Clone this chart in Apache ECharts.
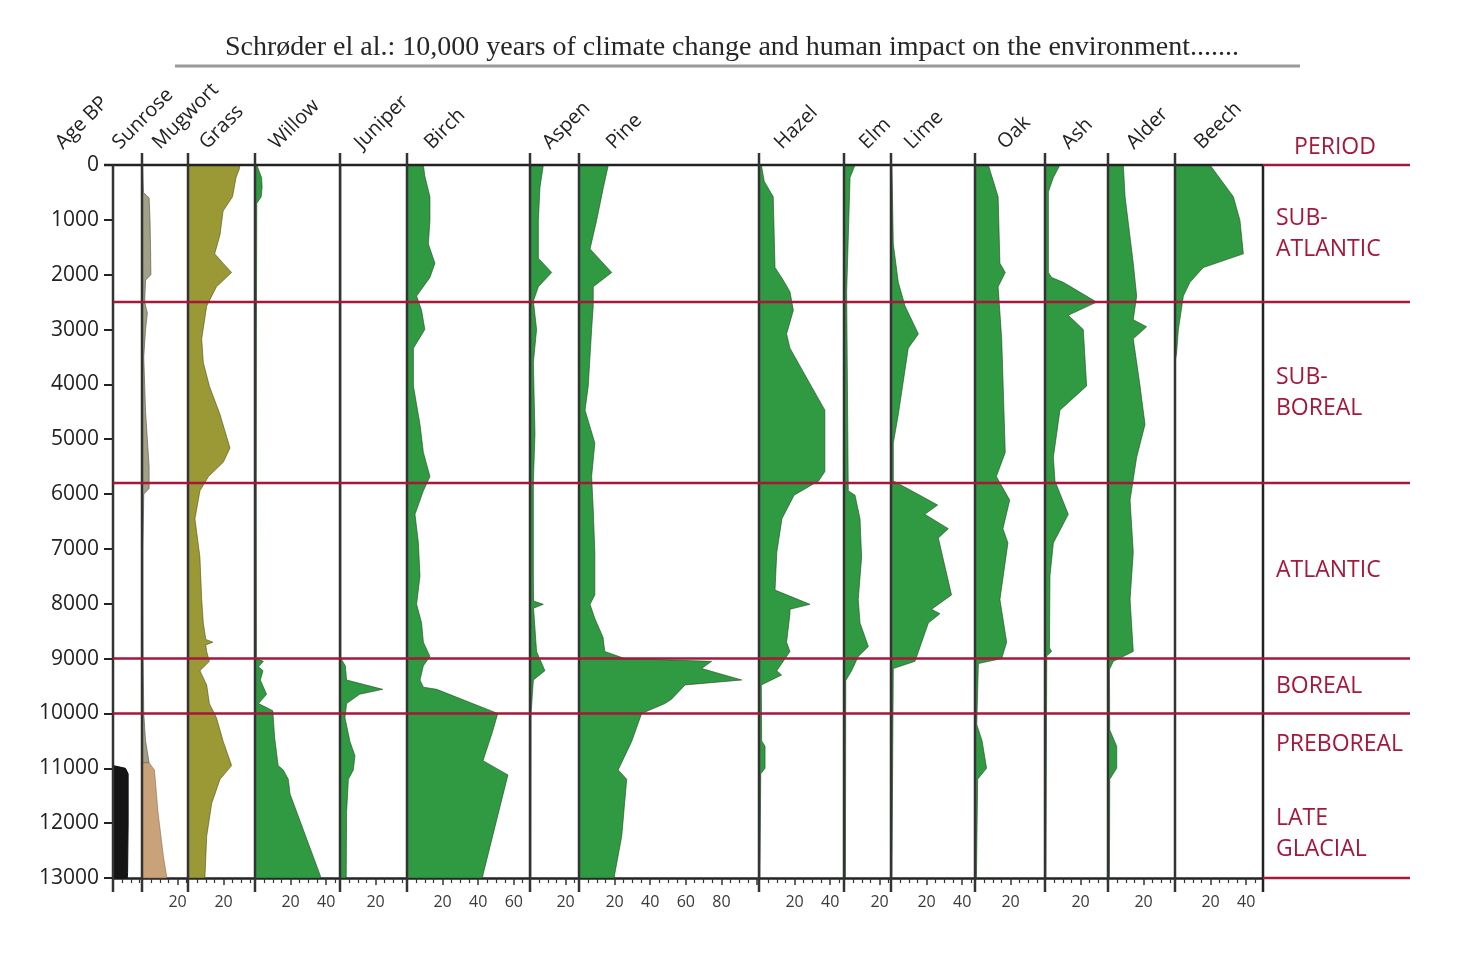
<!DOCTYPE html>
<html>
<head>
<meta charset="utf-8">
<title>Pollen diagram</title>
<script src="https://cdn.jsdelivr.net/npm/echarts@6/dist/echarts.min.js"></script>
<style>
  html, body { margin: 0; padding: 0; background: #fff; }
  #chart { width: 1464px; height: 953px; }
</style>
</head>
<body>
<div id="chart"></div>
<script>
  const titleText = 'Schrøder el al.: 10,000 years of climate change and human impact on the environment.......';
  const taxa = ['Sunrose', 'Mugwort', 'Grass', 'Willow', 'Juniper', 'Birch', 'Aspen', 'Pine',
    'Hazel', 'Elm', 'Lime', 'Oak', 'Ash', 'Alder', 'Beech'];

  // each point: [age BP, percent]
  const sunrose = [[10950, 0], [11000, 7], [11100, 8.5], [12000, 8.5], [12900, 8.2], [13000, 8]];
  const mugwort = [[0, 0.3], [500, 0.8], [600, 4], [1000, 4.5], [1500, 4.8], [2000, 5], [2100, 2], [2500, 1.5],
    [2700, 3], [3000, 2], [3500, 1], [4000, 1.5], [4500, 2], [5000, 3], [5500, 4], [5900, 4], [6000, 1],
    [7000, 0.5], [8000, 0.5], [9000, 0.6], [9500, 0.8], [10000, 1], [10500, 2], [10900, 4]];
  const mugwortLate = [[10900, 4], [11030, 7], [11800, 9], [12600, 12], [13000, 14]];
  const grass = [[0, 29], [60, 29], [230, 27], [580, 25], [840, 19.7], [1270, 18], [1620, 15], [1790, 19.7],
    [1960, 24.5], [2220, 16], [2570, 10.5], [3170, 7.7], [3600, 8.6], [4030, 12], [4550, 18], [5160, 23.6],
    [5420, 19.8], [5680, 11.5], [5940, 6.7], [6450, 3.9], [7150, 6.7], [7920, 7.7], [8350, 8.6], [8650, 10],
    [8700, 14], [8750, 10], [8870, 10.5], [9050, 12], [9220, 6.7], [9480, 10.5], [9820, 12], [10080, 16],
    [10510, 19.8], [10950, 24.5], [11200, 18], [11640, 13.3], [12240, 10.5], [12930, 9.6], [13000, 9.5]];
  const willow = [[0, 1], [230, 3.7], [400, 4], [580, 3.5], [700, 1], [3000, 0.8], [6000, 0.7], [9000, 0.8],
    [9050, 4.7], [9150, 2], [9220, 4.5], [9390, 3], [9650, 6.5], [9820, 2], [9950, 10], [10430, 11],
    [10950, 13], [11030, 15.9], [11200, 18.7], [11470, 19.7], [12940, 36.5], [13000, 37]];
  const juniper = [[0, 0.5], [9000, 0.5], [9130, 3], [9390, 3.7], [9560, 24], [9650, 11], [9820, 3.7],
    [10080, 2.8], [10510, 5.6], [10770, 8.4], [11030, 7.5], [11200, 4.7], [11810, 3.7], [13000, 3.5]];
  const birch = [[0, 9.2], [200, 10], [580, 12.9], [1010, 12.9], [1440, 12], [1790, 15.7], [2050, 12.9],
    [2390, 5.4], [2650, 8.2], [3000, 10], [3340, 3.6], [4030, 3.6], [4730, 7.3], [5240, 9.2], [5680, 12.9],
    [5940, 9.2], [6370, 4.5], [6890, 6.4], [7490, 7.3], [8010, 5.4], [8350, 8.2], [8700, 9.2], [8960, 12.9],
    [9130, 9.2], [9390, 7.3], [9520, 9.2], [9560, 16.7], [10000, 51], [10340, 48], [10860, 42.7],
    [11120, 56.7], [12940, 42.7], [13000, 42.5]];
  const aspen = [[0, 7.5], [410, 5.6], [1010, 4.7], [1700, 4.7], [1960, 12.2], [2220, 4.7], [2480, 1.9],
    [3000, 3.7], [3600, 1.9], [4900, 2.8], [5760, 1.9], [7490, 1.9], [7950, 2], [8010, 7.5], [8080, 2],
    [8870, 3.7], [9220, 8.4], [9390, 1.9], [10000, 0.6], [13000, 0.5]];
  const pine = [[0, 16.5], [410, 13.7], [1010, 9.9], [1530, 6.2], [1960, 18.4], [2220, 8], [2570, 8], [3000, 7.1],
    [4030, 5.2], [4470, 3.4], [5070, 8.9], [5680, 7.1], [6280, 8], [7060, 8.9], [7840, 8.9], [8010, 6.2],
    [8270, 8.9], [8610, 13.5], [8870, 14.5], [9000, 25.8], [9050, 74.5], [9180, 68.9], [9390, 91.4],
    [9480, 59.6], [9740, 52], [9820, 48.3], [10000, 35.2], [10510, 29.6], [11030, 22], [11200, 26.8],
    [12240, 24], [12940, 20], [13000, 20]];
  const hazel = [[0, 1.3], [300, 3], [580, 8], [1870, 9], [2050, 12.7], [2310, 17.4], [2650, 19.3], [3080, 15.5],
    [3340, 17.4], [4470, 37], [5590, 37], [5760, 33.5], [6020, 19.7], [6450, 12.9], [7060, 10], [7750, 9],
    [8010, 28.6], [8100, 17.4], [8180, 17.4], [8700, 15.5], [8870, 17.4], [9220, 10], [9300, 12.7],
    [9480, 1.3], [10500, 1.5], [10600, 3.4], [11000, 3.4], [11100, 1], [13000, 0.5]];
  const elm = [[0, 6.2], [230, 3.4], [2310, 1.5], [5940, 2.4], [6020, 6.2], [6450, 9], [7150, 9.9], [7920, 8],
    [8350, 9], [8780, 13.7], [8960, 8], [9220, 4.3], [9400, 1], [13000, 0.8]];
  const lime = [[0, 0.5], [1440, 1.3], [2140, 4.1], [2570, 7.9], [3080, 15.4], [3340, 9.7], [4550, 4.1],
    [5070, 1.3], [5760, 1.3], [5940, 11.6], [6200, 26.2], [6370, 19], [6630, 32.2], [6800, 26.6],
    [7840, 34], [8100, 22.8], [8180, 27.5], [8350, 21], [9050, 13.5], [9180, 1.3], [13000, 0.5]];
  const oak = [[0, 7.5], [580, 13], [1790, 14], [1960, 17], [2220, 13], [3170, 15], [5240, 17], [5680, 12],
    [6110, 19.5], [6630, 15.7], [6890, 18.5], [7920, 14], [8700, 17.8], [9000, 15], [9090, 1.9], [10200, 1],
    [10500, 4], [11000, 6.5], [11200, 1.5], [13000, 0.8]];
  const ash = [[0, 8.4], [230, 4.7], [490, 1.9], [1960, 1.9], [2050, 3.7], [2140, 10.3], [2500, 29], [2740, 13.1],
    [3000, 21.5], [4030, 23.4], [4470, 8.4], [5330, 4.7], [5760, 5.6], [6370, 13.1], [6890, 4.7],
    [7490, 2.8], [8800, 2.5], [8870, 3.7], [8950, 1], [13000, 0.5]];
  const alder = [[0, 8.6], [580, 9.6], [1790, 14.2], [2390, 16.1], [2820, 14.2], [2950, 21.7], [3170, 14.2],
    [4030, 18], [4730, 20.8], [5330, 16.1], [6110, 12.4], [7060, 14.2], [7920, 12.4], [8870, 14.2],
    [9050, 3], [9200, 0.8], [10300, 1], [10600, 4.9], [11000, 4.9], [11200, 1], [13000, 0.8]];
  const beech = [[0, 19.7], [580, 32.8], [1010, 36.5], [1620, 38.4], [1870, 15.9], [2140, 8.4], [2390, 4.7],
    [3000, 1.9], [3430, 0.9], [3600, 0]];

  const periodBounds = [0, 2500, 5800, 9000, 10000, 13000];
  const periodNames = ['SUB-\nATLANTIC', 'SUB-\nBOREAL', 'ATLANTIC', 'BOREAL', 'PREBOREAL', 'LATE\nGLACIAL'];
  const periodLabelAges = [1250, 4150, 7400, 9500, 10560, 12200];

  // layout (pixels)
  const colLeft = [113, 142, 188, 255, 340, 407, 530, 579, 759, 844, 891, 975, 1045, 1108, 1175];
  const colRight = 1263;
  const labelDx = [10, 21, 22, 25, 25, 28, 23, 38, 26, 26, 24, 33, 27, 29, 30];
  const pxPerPct = 1.78;
  const plotTop = 165, plotHeight = 713;

  const green = '#2f9a42', greenEdge = 'rgba(35,70,35,0.6)';
  const red = '#a5173b';

  const chart = echarts.init(document.getElementById('chart'));

  const grids = [], xAxes = [], yAxes = [];
  colLeft.forEach((left, i) => {
    const right = i < colLeft.length - 1 ? colLeft[i + 1] : colRight;
    const xMax = (right - left) / pxPerPct;
    grids.push({ left: left, top: plotTop, width: right - left, height: plotHeight });
    xAxes.push({
      type: 'value', gridIndex: i, min: 0, max: xMax, interval: 20, position: 'bottom',
      axisLine: { show: true, onZero: false, lineStyle: { color: '#222', width: 2.5 } },
      axisTick: { show: true, length: 7, lineStyle: { color: '#333', width: 1.5 } },
      minorTick: { show: true, splitNumber: 4, length: 5, lineStyle: { color: '#333', width: 1.2 } },
      splitLine: { show: false },
      axisLabel: {
        fontSize: 16, color: '#3a3a3a', fontFamily: 'Open Sans', margin: 16,
        showMinLabel: true, showMaxLabel: true, hideOverlap: false,
        formatter: (v) => (v > 0 && v < xMax - 3 && Math.abs(v % 20) < 1e-6 ? String(v) : '')
      }
    });
    yAxes.push({
      type: 'value', gridIndex: i, min: 0, max: 13000, interval: 1000, inverse: true,
      axisLine: { show: false, onZero: false },
      axisTick: { show: i === 0, length: 9, lineStyle: { color: '#222', width: 2 } },
      axisLabel: {
        show: i === 0, fontSize: 21, color: '#222', fontFamily: 'Open Sans', margin: 14,
        formatter: (v) => String(v)
      },
      splitLine: { show: false }
    });
  });

  function areaSeries(gi, pts, fill, edge) {
    return {
      type: 'custom', xAxisIndex: gi, yAxisIndex: gi, silent: true,
      data: pts.map((p) => [p[1], p[0]]),
      encode: { x: 0, y: 1 },
      renderItem: function (params, api) {
        if (params.dataIndex !== 0) return null;
        const poly = [api.coord([0, pts[0][0]])];
        pts.forEach((p) => poly.push(api.coord([p[1], p[0]])));
        poly.push(api.coord([0, pts[pts.length - 1][0]]));
        return { type: 'polygon', shape: { points: poly }, style: { fill: fill, stroke: edge, lineWidth: 1 } };
      }
    };
  }

  const series = [
    areaSeries(0, sunrose, '#151515', '#111'),
    areaSeries(1, mugwort, '#a3a088', 'rgba(80,80,60,0.6)'),
    areaSeries(1, mugwortLate, '#c9a27a', 'rgba(120,90,60,0.5)'),
    areaSeries(2, grass, '#9b9836', 'rgba(70,70,20,0.55)'),
    areaSeries(3, willow, green, greenEdge),
    areaSeries(4, juniper, green, greenEdge),
    areaSeries(5, birch, green, greenEdge),
    areaSeries(6, aspen, green, greenEdge),
    areaSeries(7, pine, green, greenEdge),
    areaSeries(8, hazel, green, greenEdge),
    areaSeries(9, elm, green, greenEdge),
    areaSeries(10, lime, green, greenEdge),
    areaSeries(11, oak, green, greenEdge),
    areaSeries(12, ash, green, greenEdge),
    areaSeries(13, alder, green, greenEdge),
    areaSeries(14, beech, green, greenEdge)
  ];

  chart.setOption({
    backgroundColor: '#fff',
    animation: false,
    title: {
      text: titleText, left: 'center', top: 29,
      textStyle: { fontFamily: 'Liberation Serif', fontSize: 28, fontWeight: 'normal', color: '#262626' }
    },
    grid: grids,
    xAxis: xAxes,
    yAxis: yAxes,
    series: series
  });

  // overlay lines and labels, placed through the axes' scales
  const yOf = (age) => chart.convertToPixel({ yAxisIndex: 0 }, age);
  const xOf = (i, v) => chart.convertToPixel({ xAxisIndex: i }, v);
  const y0 = yOf(0), yEnd = yOf(13000);
  const els = [];
  const line = (x1, y1, x2, y2, stroke, w) => els.push({
    type: 'line', z: 100, silent: true,
    shape: { x1: x1, y1: y1, x2: x2, y2: y2 }, style: { stroke: stroke, lineWidth: w }
  });
  const rotLabel = (text, x, y) => els.push({
    type: 'text', z: 100, x: x, y: y, rotation: Math.PI / 4,
    style: { text: text, fontSize: 20, fontFamily: 'Open Sans', fill: '#222',
      align: 'left', verticalAlign: 'bottom', textAlign: 'left', textVerticalAlign: 'bottom' }
  });

  line(175, 66, 1300, 66, '#9a9a9a', 3);
  line(xOf(0, 0) - 9, y0, colRight, y0, '#222', 2.5);
  taxa.forEach((name, i) => {
    const x = xOf(i, 0);
    line(x, i === 0 ? y0 : y0 - 12, x, yEnd + 14, '#333', 2.5);
    rotLabel(name, x + labelDx[i], 153);
  });
  rotLabel('Age BP', 66, 153);
  line(colRight, y0, colRight, yEnd + 14, '#222', 2.5);

  periodBounds.forEach((age, i) => {
    const y = yOf(age);
    const start = (i === 0 || i === periodBounds.length - 1) ? colRight : xOf(0, 0);
    line(start, y, 1410, y, red, 2.5);
  });
  els.push({
    type: 'text', z: 100, x: 1335, y: y0 - 18,
    style: { text: 'PERIOD', fontSize: 23, fontFamily: 'Open Sans', fill: red,
      align: 'center', verticalAlign: 'middle', textAlign: 'center', textVerticalAlign: 'middle' }
  });
  periodNames.forEach((name, i) => {
    els.push({
      type: 'text', z: 100, x: 1276, y: yOf(periodLabelAges[i]),
      style: { text: name, fontSize: 23, lineHeight: 31, fontFamily: 'Open Sans', fill: red,
        align: 'left', verticalAlign: 'middle', textAlign: 'left', textVerticalAlign: 'middle' }
    });
  });

  chart.setOption({ graphic: { elements: els } });
</script>
</body>
</html>
